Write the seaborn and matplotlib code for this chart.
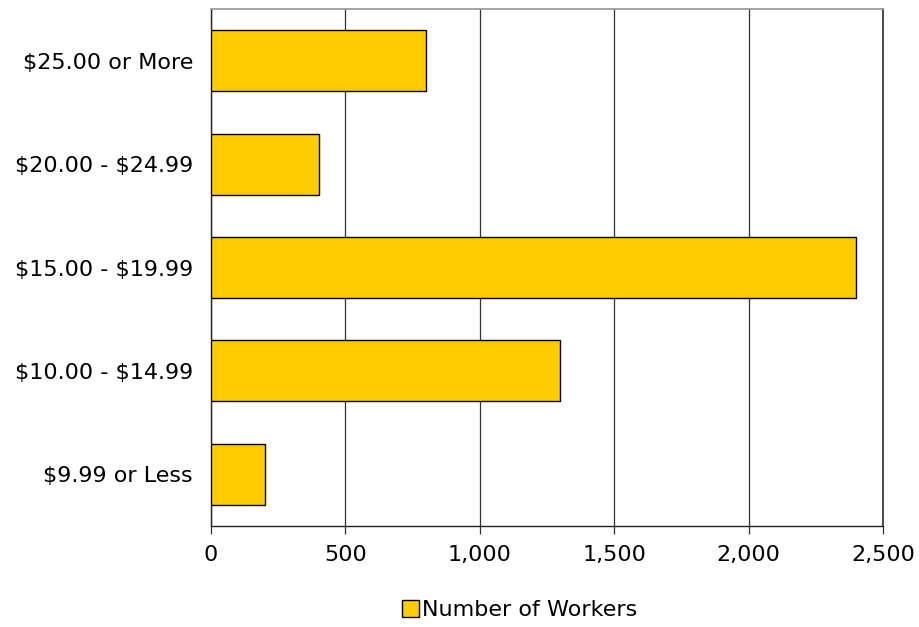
import matplotlib
matplotlib.use("Agg")
import matplotlib.pyplot as plt
import matplotlib.ticker as mticker
from matplotlib.patches import Patch
import seaborn as sns
import pandas as pd

wage_ranges = ["$25.00 or More", "$20.00 - $24.99", "$15.00 - $19.99",
               "$10.00 - $14.99", "$9.99 or Less"]
workers = [800, 400, 2400, 1300, 200]
x_ticks = [0, 500, 1000, 1500, 2000, 2500]

df = pd.DataFrame({"Wage": wage_ranges, "Workers": workers})

sns.set_theme(style="white")
plt.rcParams["font.family"] = ["DejaVu Sans"]
plt.rcParams["text.parse_math"] = False
plt.rcParams["text.color"] = "black"

fig, ax = plt.subplots(figsize=(9.19, 6.27), dpi=100)
fig.subplots_adjust(left=0.2296, right=0.9608, top=0.9856, bottom=0.1611)

bar_color = "#FFCC00"
sns.barplot(data=df, x="Workers", y="Wage", order=wage_ranges, orient="h",
            color=bar_color, edgecolor="black", linewidth=1.0,
            width=0.59, saturation=1, ax=ax, zorder=3)

ax.set_xlim(0, 2500)
ax.set_ylim(4.5, -0.5)
ax.set_xticks(x_ticks)
ax.xaxis.set_major_formatter(mticker.FuncFormatter(lambda v, p: f"{int(v):,}"))
ax.grid(axis="x", color="#333333", linewidth=0.9, zorder=0)
ax.set_axisbelow(True)
ax.set_xlabel("")
ax.set_ylabel("")

for side in ["left", "bottom"]:
    ax.spines[side].set_color("#222222")
    ax.spines[side].set_linewidth(1.0)
ax.spines["top"].set_color("#999999")
ax.spines["right"].set_color("#333333")

ax.tick_params(axis="x", bottom=True, length=6, width=0.9, color="#333333",
               labelsize=16, labelcolor="black", pad=8)
ax.tick_params(axis="y", left=False, labelsize=16, labelcolor="black", pad=7)
for lbl in ax.get_yticklabels():
    lbl.set_parse_math(False)

handle = Patch(facecolor=bar_color, edgecolor="black", linewidth=1.0)
leg = fig.legend([handle], ["Number of Workers"], loc="center",
                 bbox_to_anchor=(0.565, 1 - 610 / 627), frameon=False,
                 fontsize=16, handlelength=0.8, handleheight=0.8,
                 handletextpad=0.1)
for t in leg.get_texts():
    t.set_color("black")

fig.savefig("out.png", dpi=100, facecolor="white")
